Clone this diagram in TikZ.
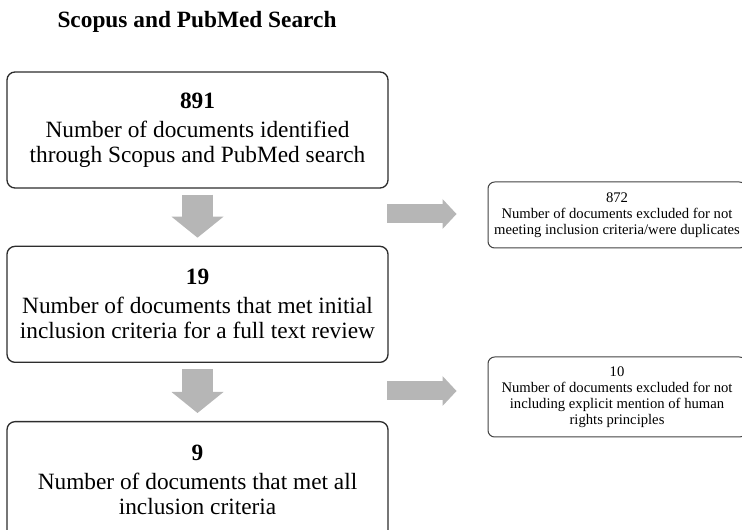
\documentclass[tikz,border=0pt]{standalone}
\usepackage{fontspec}
\setmainfont{Liberation Serif}
\usetikzlibrary{positioning, arrows.meta}

\definecolor{arrowgray}{RGB}{182,182,182}
\definecolor{framegray}{RGB}{45,45,45}

\begin{document}
\begin{tikzpicture}[
                    x=0.75pt, y=-0.75pt,
                    stagebox/.style={draw=framegray, line width=1pt, rounded corners=6pt,
                        minimum width=285.75pt, minimum height=87pt, align=center,
                        font=\fontsize{17.5}{18.75}\selectfont},
                    exclbox/.style={draw=framegray!90, line width=0.75pt, rounded corners=5pt,
                        minimum width=193.5pt, align=center, inner sep=0pt,
                        font=\fontsize{11}{12}\selectfont},
                    downarrow/.style={arrowgray, line width=23.25pt,
                        -{Triangle[length=15.75pt, width=39pt, line width=0pt]},
                        shorten <=4.5pt, shorten >=6pt},
                    sidearrow/.style={arrowgray, line width=14.25pt,
                        -{Triangle[length=10.5pt, width=22.5pt, line width=0pt]},
                        shorten >=23.25pt},
                ]
                \useasboundingbox (0,0) rectangle (742,530);

                \node[font=\fontsize{17.5}{18.75}\selectfont\bfseries] (title) at (197,22) {Scopus and PubMed Search};

                \node[stagebox] (found) at (197.5,130) {\textbf{891}\\[3pt]
                    Number of documents identified\\ through Scopus and PubMed search};
                \node[stagebox, below=42.75pt of found] (screened) {\textbf{19}\\[3pt]
                    Number of documents that met initial\\ inclusion criteria for a full text review};
                \node[stagebox, below=43.5pt of screened] (included) {\textbf{9}\\[3pt]
                    Number of documents that met all\\ inclusion criteria};

                \node[exclbox, minimum height=49.5pt] (dupes) at (617,215) {872\\
                    Number of documents excluded for not\\ meeting inclusion criteria/were duplicates};
                \node[exclbox, minimum height=60pt] (norights) at (617,397) {10\\
                    Number of documents excluded for not\\ including explicit mention of human\\ rights principles};

                \coordinate (gap1) at (387,214);
                \coordinate (gap2) at (387,391);

                \draw[downarrow] (found.south) -- (screened.north);
                \draw[downarrow] (screened.south) -- (included.north);
                \draw[sidearrow] (gap1) -- (gap1 -| dupes.west);
                \draw[sidearrow] (gap2) -- (gap2 -| norights.west);
            \end{tikzpicture}
\end{document}
